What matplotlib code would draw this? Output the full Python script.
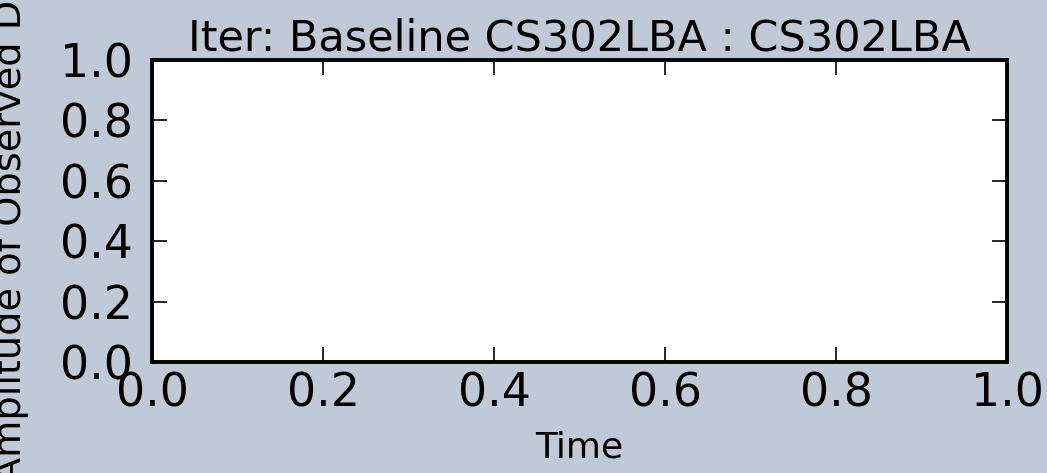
import matplotlib
matplotlib.use("Agg")
import matplotlib.pyplot as plt

# Empty amplitude panel for one baseline
title = "Iter: Baseline CS302LBA : CS302LBA"
xlabel = "Time"
ylabel = "Amplitude of Observed Data"
ticks = [0.0, 0.2, 0.4, 0.6, 0.8, 1.0]
tick_labels = ["0.0", "0.2", "0.4", "0.6", "0.8", "1.0"]

bg = "#bfcad6"

fig = plt.figure(figsize=(10.47, 4.73), dpi=100, facecolor=bg)
ax = fig.add_axes([0.1452, 0.2347, 0.8166, 0.6384])
ax.set_facecolor("white")
ax.set_xlim(0, 1)
ax.set_ylim(0, 1)

ax.set_xticks(ticks)
ax.set_yticks(ticks)
ax.set_xticklabels(tick_labels)
ax.set_yticklabels(tick_labels)
ax.tick_params(direction="in", length=11, width=1.2, top=True, right=True,
               labelsize=33, colors="black")
ax.tick_params(axis="x", pad=7)
ax.tick_params(axis="y", pad=14)
for s in ax.spines.values():
    s.set_linewidth(2.8)

ax.set_title(title, fontsize=31, pad=7)
ax.set_xlabel(xlabel, fontsize=26, labelpad=10)
ax.set_ylabel(ylabel, fontsize=27.5)
ax.yaxis.set_label_coords(-0.144, 0.5)

fig.savefig("out.png", dpi=100, facecolor=bg)
